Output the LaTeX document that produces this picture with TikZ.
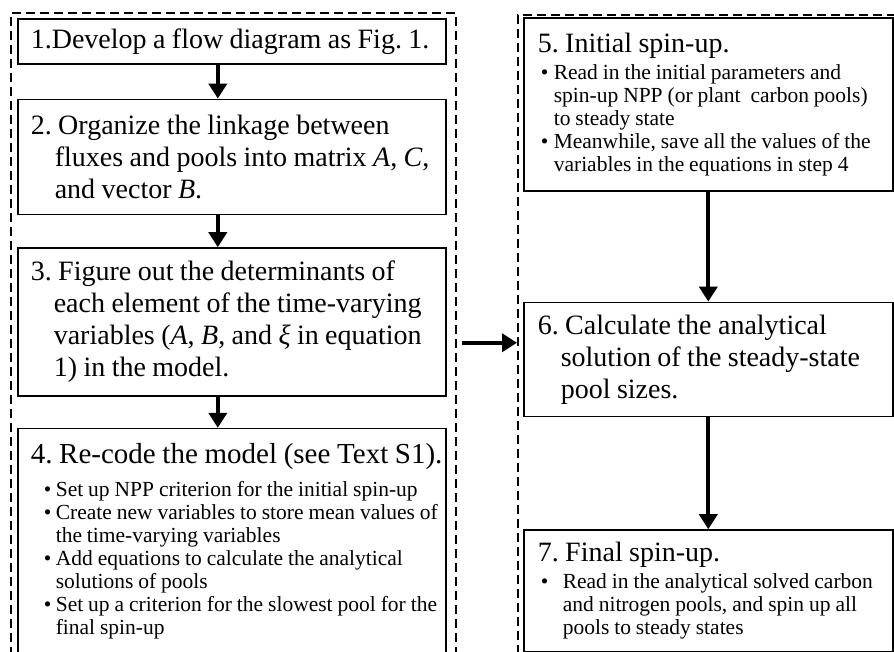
\documentclass[tikz,border=0pt]{standalone}
\usepackage{fontspec}
\setmainfont{Liberation Serif}
\frenchspacing
\usetikzlibrary{arrows.meta,positioning}

\newcommand{\bsize}{\fontsize{21.5}{23}\selectfont\spaceskip=.23em\relax}
\newcommand{\lines}[1]{\parbox[c]{520pt}{\raggedright\spaceskip=.23em\relax#1}}
\newcommand{\bul}[2]{\hspace*{#1}\makebox[#2][l]{\textbullet}}
\newcommand{\cnt}[1]{\hspace*{#1}}

\begin{document}
\begin{tikzpicture}[x=1pt,y=-1pt,
  stepbox/.style={draw,line width=1.6pt,align=left,inner xsep=13pt,inner ysep=2pt,font=\fontsize{28}{32}\selectfont},
  leftbox/.style={stepbox,text width=402pt,minimum width=428pt},
  rightbox/.style={stepbox,inner xsep=14pt,text width=341pt,minimum width=369pt},
  frame/.style={draw,dash pattern=on 9pt off 5pt,line width=1.5pt},
  arr/.style={line width=4pt,-{Triangle[width=18pt,length=15pt]}},
  node distance=32pt
]
\useasboundingbox (0,0) rectangle (894,651);

% dashed groups
\node[frame,anchor=north west,minimum width=445pt,minimum height=660pt] (lframe) at (10,12) {};
\node[frame,anchor=north west,minimum width=400pt,minimum height=656pt] (rframe) at (517,14) {};

% left column
\node[leftbox,anchor=north west,minimum height=45pt] (s1) at (17,18) {\lines{1.Develop a flow diagram as Fig. 1.}};
\node[leftbox,below=34pt of s1,minimum height=115pt] (s2) {\lines{2. Organize the linkage between\\
  \cnt{24pt}fluxes and pools into matrix \textit{A}, \textit{C},\\
  \cnt{24pt}and vector \textit{B}.}};
\node[leftbox,below=32pt of s2,minimum height=148pt] (s3) {\lines{3. Figure out the determinants of\\
  \cnt{23pt}each element of the time-varying\\
  \cnt{23pt}variables (\textit{A}, \textit{B}, and \textit{ξ} in equation\\
  \cnt{23pt}1) in the model.}};
\node[leftbox,below=31pt of s3,minimum height=225pt] (s4) {\lines{\fontsize{29}{32}\selectfont\spaceskip=.23em\relax
  4. Re-code the model (see Text S1).\par\vspace{10pt}\bsize
  \bul{13pt}{12pt}Set up NPP criterion for the initial spin-up\\
  \bul{13pt}{12pt}Create new variables to store mean values of\\
  \cnt{25pt}the time-varying variables\\
  \bul{13pt}{12pt}Add equations to calculate the analytical\\
  \cnt{25pt}solutions of pools\\
  \bul{13pt}{12pt}Set up a criterion for the slowest pool for the\\
  \cnt{25pt}final spin-up}};

% right column
\node[rightbox,anchor=north west,minimum height=173pt] (s5) at (523,17) {\lines{5. Initial spin-up.\par\vspace{4pt}\bsize
  \bul{3pt}{13pt}Read in the initial parameters and\\
  \cnt{16pt}spin-up NPP (or plant\ \ carbon pools)\\
  \cnt{16pt}to steady state\\
  \bul{3pt}{13pt}Meanwhile, save all the values of the\\
  \cnt{16pt}variables in the equations in step 4}};
\node[rightbox,below=110pt of s5,minimum height=114pt] (s6) {\lines{6. Calculate the analytical\\
  \cnt{23pt}solution of the steady-state\\
  \cnt{23pt}pool sizes.}};
\node[rightbox,below=112pt of s6,minimum height=122pt] (s7) {\lines{7. Final spin-up.\par\vspace{4pt}\bsize
  \bul{3pt}{22pt}Read in the analytical solved carbon\\
  \cnt{25pt}and nitrogen pools, and spin up all\\
  \cnt{25pt}pools to steady states}};

% arrows
\draw[arr] ([xshift=-14pt]s1.south) -- ([xshift=-14pt]s2.north);
\draw[arr] ([xshift=-14pt]s2.south) -- ([xshift=-14pt]s3.north);
\draw[arr] ([xshift=-14pt]s3.south) -- ([xshift=-14pt]s4.north);
\draw[arr] (s5) -- (s6);
\draw[arr] (s6) -- (s7);
\draw[arr] ([xshift=5pt]lframe.east) -- (rframe.west);
\end{tikzpicture}
\end{document}
